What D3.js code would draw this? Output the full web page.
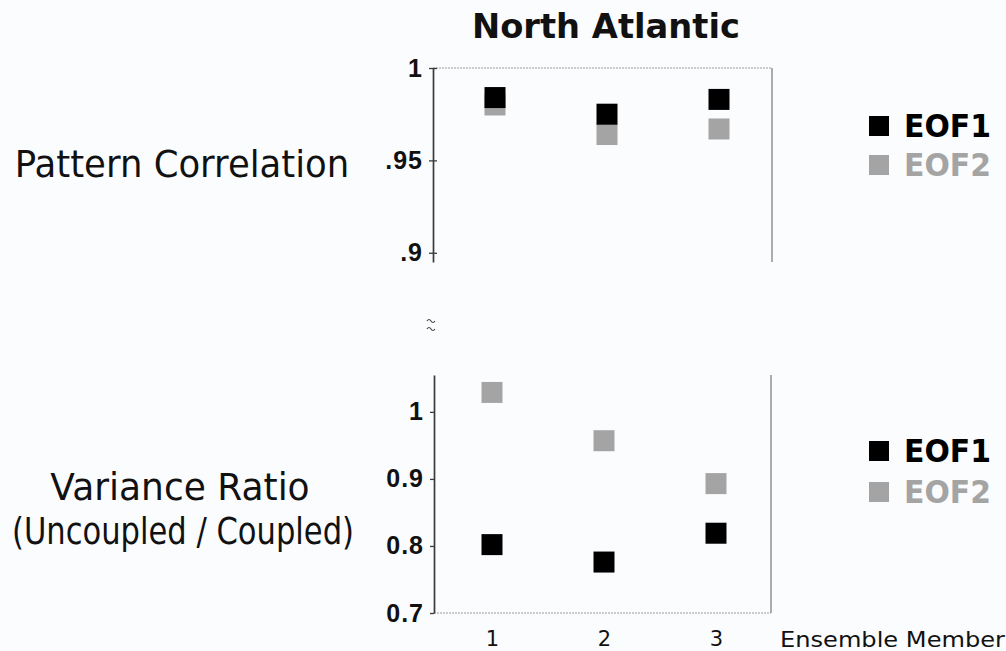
<!DOCTYPE html>
<html>
<head>
<meta charset="utf-8">
<script src="https://cdn.jsdelivr.net/npm/d3@7/dist/d3.min.js"></script>
<style>
  html, body { margin: 0; padding: 0; background: #fbfcfe; }
  svg { display: block; }
</style>
</head>
<body>
<script>
// Ensemble members on the x axis
const members = ["1", "2", "3"];
// Pattern correlation with the coupled-run EOFs
const corrEOF1 = [0.984, 0.975, 0.983];
const corrEOF2 = [0.980, 0.964, 0.967];
// Variance ratio (uncoupled / coupled)
const ratioEOF1 = [0.802, 0.776, 0.819];
const ratioEOF2 = [1.029, 0.957, 0.893];
// Axis ticks
const corrTicks = [0.9, 0.95, 1];
const corrTickLabels = [".9", ".95", "1"];
const ratioTicks = [0.7, 0.8, 0.9, 1];
const ratioTickLabels = ["0.7", "0.8", "0.9", "1"];
const seriesNames = ["EOF1", "EOF2"];

const W = 1006, H = 651;
const BLACK = "#000000", GREY = "#a4a4a4";
const SQ = 21;

const svg = d3.select("body").append("svg")
  .attr("width", W).attr("height", H);

svg.append("rect").attr("width", W).attr("height", H).attr("fill", "#fbfcfe");

// Title
svg.append("text")
  .attr("x", 472).attr("y", 38)
  .attr("textLength", 268).attr("lengthAdjust", "spacingAndGlyphs")
  .style("font-family", "'DejaVu Sans', sans-serif")
  .style("font-weight", "bold").style("font-size", "34px")
  .attr("fill", "#111")
  .text("North Atlantic");

// Row labels (slightly tall lettering: font sized to the width, stretched vertically)
function rowLabel(txt, cx, y, size, sy) {
  svg.append("text")
    .attr("transform", `translate(${cx},${y}) scale(1,${sy})`)
    .attr("text-anchor", "middle")
    .style("font-family", "'DejaVu Sans', sans-serif")
    .style("font-size", size + "px")
    .attr("fill", "#111")
    .text(txt);
}
rowLabel("Pattern Correlation", 182, 177, 35.5, 1.05);
rowLabel("Variance Ratio", 180, 500, 36, 1.03);
rowLabel("(Uncoupled / Coupled)", 183, 544, 30.6, 1.2);

function styleTickText(sel) {
  sel.style("font-family", "'Liberation Sans', Arial, sans-serif")
    .style("font-size", "25px").style("font-weight", "bold")
    .style("letter-spacing", "1px")
    .attr("fill", "#111");
}

// ---- Top panel: pattern correlation ----
const topBox = { left: 433, right: 772, top: 68, bottom: 262 };
const xTop = d3.scalePoint().domain(members).range([439, 775]).padding(0.5);
const yTop = d3.scaleLinear().domain([0.895, 1]).range([topBox.bottom, topBox.top]);

const gTop = svg.append("g");
// frame: dotted top edge and right edge
gTop.append("line")
  .attr("x1", topBox.left).attr("x2", topBox.right)
  .attr("y1", topBox.top).attr("y2", topBox.top)
  .attr("stroke", "#9a9a9a").attr("stroke-width", 1.2).attr("stroke-dasharray", "2,1");
gTop.append("line")
  .attr("x1", topBox.right).attr("x2", topBox.right)
  .attr("y1", topBox.top).attr("y2", topBox.bottom)
  .attr("stroke", "#8a8a8a").attr("stroke-width", 1.4);

const axTop = gTop.append("g")
  .attr("transform", `translate(${topBox.left},0)`)
  .call(d3.axisLeft(yTop).tickValues(corrTicks)
    .tickFormat((d, i) => corrTickLabels[i])
    .tickSize(4).tickSizeOuter(0).tickPadding(6));
axTop.select(".domain").attr("stroke", "#3a3a3a").attr("stroke-width", 1.7);
axTop.selectAll(".tick line").attr("x1", 4).attr("x2", -4)
  .attr("stroke", "#3a3a3a").attr("stroke-width", 1.3);
styleTickText(axTop.selectAll(".tick text"));

function squares(g, xs, ys, vals, color) {
  g.append("g").selectAll("rect").data(vals).join("rect")
    .attr("x", (d, i) => xs(members[i]) - SQ / 2)
    .attr("y", d => ys(d) - SQ / 2)
    .attr("width", SQ).attr("height", SQ)
    .attr("fill", color);
}
squares(gTop, xTop, yTop, corrEOF2, GREY);
squares(gTop, xTop, yTop, corrEOF1, BLACK);

// Axis break mark between panels: two stacked tildes
const brk = d3.path();
[321, 329].forEach(y => {
  brk.moveTo(427, y);
  brk.quadraticCurveTo(429, y - 3, 431, y);
  brk.quadraticCurveTo(433, y + 3, 435, y);
});
svg.append("path").attr("d", brk.toString())
  .attr("fill", "none").attr("stroke", "#444").attr("stroke-width", 1.2);

// ---- Bottom panel: variance ratio ----
const botBox = { left: 434, right: 771, top: 375, bottom: 613 };
const xBot = d3.scalePoint().domain(members).range([436, 772]).padding(0.5);
const yBot = d3.scaleLinear().domain([0.7, 1.055]).range([botBox.bottom, botBox.top]);

const gBot = svg.append("g");
gBot.append("line")
  .attr("x1", botBox.left).attr("x2", botBox.right)
  .attr("y1", botBox.bottom).attr("y2", botBox.bottom)
  .attr("stroke", "#9a9a9a").attr("stroke-width", 1.2).attr("stroke-dasharray", "2,1");
gBot.append("line")
  .attr("x1", botBox.right).attr("x2", botBox.right)
  .attr("y1", botBox.top).attr("y2", botBox.bottom)
  .attr("stroke", "#8a8a8a").attr("stroke-width", 1.4);

const axBot = gBot.append("g")
  .attr("transform", `translate(${botBox.left},0)`)
  .call(d3.axisLeft(yBot).tickValues(ratioTicks)
    .tickFormat((d, i) => ratioTickLabels[i])
    .tickSize(4).tickSizeOuter(0).tickPadding(6));
axBot.select(".domain").attr("stroke", "#3a3a3a").attr("stroke-width", 1.7);
axBot.selectAll(".tick line").attr("stroke", "#3a3a3a").attr("stroke-width", 1.3);
styleTickText(axBot.selectAll(".tick text"));

const axX = gBot.append("g")
  .attr("transform", `translate(0,${botBox.bottom})`)
  .call(d3.axisBottom(xBot).tickSize(0).tickPadding(18));
axX.select(".domain").remove();
axX.selectAll(".tick text")
  .style("font-family", "'DejaVu Sans', sans-serif")
  .style("font-size", "21px").attr("fill", "#111");

svg.append("text")
  .attr("x", 780).attr("y", 647)
  .attr("textLength", 225).attr("lengthAdjust", "spacingAndGlyphs")
  .style("font-family", "'DejaVu Sans', sans-serif")
  .style("font-size", "21px").attr("fill", "#111")
  .text("Ensemble Member");

squares(gBot, xBot, yBot, ratioEOF2, GREY);
squares(gBot, xBot, yBot, ratioEOF1, BLACK);

// ---- Legends ----
function legend(top, gap) {
  const colors = [BLACK, GREY];
  const g = svg.append("g");
  seriesNames.forEach((name, i) => {
    const y = top + i * gap;
    g.append("rect").attr("x", 869).attr("y", y).attr("width", 20).attr("height", 20)
      .attr("fill", colors[i]);
    g.append("text").attr("x", 904).attr("y", y + 21)
      .attr("textLength", 87).attr("lengthAdjust", "spacingAndGlyphs")
      .style("font-family", "'DejaVu Sans', sans-serif")
      .style("font-weight", "bold").style("font-size", "32px")
      .attr("fill", colors[i])
      .text(name);
  });
}
legend(116, 39);
legend(441, 41);
</script>
</body>
</html>
